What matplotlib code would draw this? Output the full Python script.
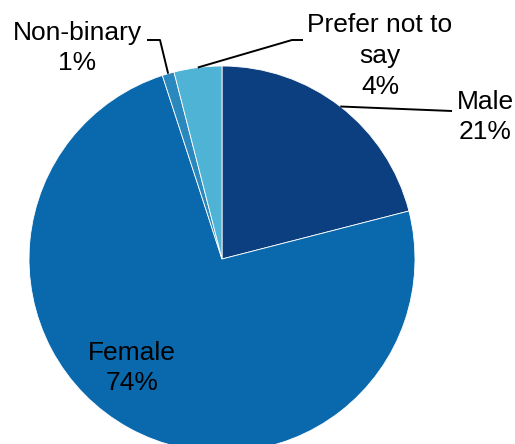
import numpy as np
import matplotlib
matplotlib.use('Agg')
import matplotlib.pyplot as plt

# data
categories = ['Male', 'Female', 'Non-binary', 'Prefer not to\nsay']
shares = [21, 74, 1, 4]
colors = ['#0c3f80', '#0a69ad', '#2a88bd', '#4fb3d6']

plt.rcParams['font.family'] = ['Liberation Sans', 'DejaVu Sans']

fig = plt.figure(figsize=(5.15, 4.44), dpi=100)
ax = fig.add_axes([0, 0, 1, 1])

# pixel layout: centre (222, 259), radius 193 px
s = 193.0
def px(x, y):
    return ((x - 222) / s, (259 - y) / s)

wedges, _ = ax.pie(shares, colors=colors, startangle=90, counterclock=False,
                   radius=1, center=(0, 0),
                   wedgeprops=dict(edgecolor='white', linewidth=0.6))

x0, y1 = px(0, 0)
x1, y0 = px(515, 444)
ax.set_xlim(x0, x1)
ax.set_ylim(y0, y1)
ax.set_aspect('auto')
ax.axis('off')

# label positions (text centre) and leader elbows, in pixels
label_pos = [(485, 117), (132, 368), (77, 48), (380, 56)]
leaders = [
    [(452, 111)],
    None,
    [(160, 40), (147, 40)],
    [(292, 40), (303, 40)],
]

for w, cat, val, pos, lead in zip(wedges, categories, shares, label_pos, leaders):
    tx, ty = px(*pos)
    ax.text(tx, ty, f'{cat}\n{val}%', ha='center', va='center',
            fontsize=19, linespacing=1.36, color='black')
    if lead:
        mid = np.deg2rad((w.theta1 + w.theta2) / 2)
        pts = [(np.cos(mid), np.sin(mid))] + [px(*p) for p in lead]
        xs, ys = zip(*pts)
        ax.plot(xs, ys, color='black', lw=1.4, solid_capstyle='butt')

fig.savefig('out.png', dpi=100)
